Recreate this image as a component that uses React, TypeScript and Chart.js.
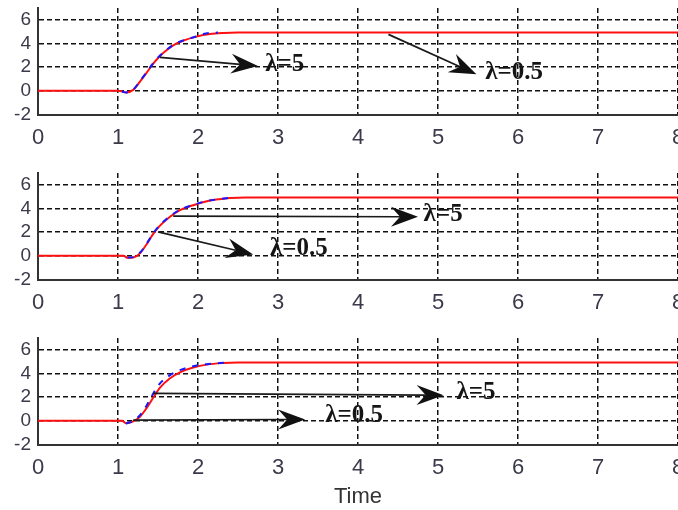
import React, { useEffect, useRef } from "react";
import { Chart, registerables } from "chart.js";

Chart.register(...registerables);

// ---- axis ticks ----
const X_TICKS = [0, 1, 2, 3, 4, 5, 6, 7, 8];
const Y_TICKS = [-2, 0, 2, 4, 6];
const X_MIN = 0;
const X_MAX = 8;
const Y_MIN = -2;
const Y_MAX = 7;
const X_TITLE = "Time";

// ---- panel 1 ----
const P1_T_RED = [0, 1.0, 1.05, 1.1, 1.19, 1.275, 1.36, 1.44, 1.525, 1.61, 1.69, 1.82, 1.98, 2.15, 2.32, 2.5, 8];
const P1_RED = [0, 0, -0.05, -0.14, 0.08, 0.78, 1.55, 2.3, 2.95, 3.45, 3.85, 4.25, 4.58, 4.8, 4.89, 4.93, 4.93];
const P1_T_BLUE = [1.05, 1.1, 1.19, 1.275, 1.36, 1.44, 1.525, 1.61, 1.69, 1.82, 1.98, 2.1, 2.25];
const P1_BLUE = [-0.05, -0.14, 0.1, 0.82, 1.6, 2.35, 2.98, 3.48, 3.88, 4.27, 4.6, 4.85, 4.93];
const P1_ARROWS = [
  [1.525, 2.82, 2.75, 2.1],
  [4.38, 4.77, 5.48, 1.41],
];
const P1_LABELS = [
  { text: "λ=5", x: 2.84, y: 2.2 },
  { text: "λ=0.5", x: 5.59, y: 1.55 },
];

// ---- panel 2 ----
const P2_T_RED = [0, 1.07, 1.12, 1.2, 1.28, 1.36, 1.44, 1.525, 1.65, 1.775, 1.94, 2.11, 2.27, 2.4, 2.6, 8];
const P2_RED = [0, 0, -0.17, -0.12, 0.25, 1.0, 1.85, 2.55, 3.3, 3.86, 4.28, 4.62, 4.79, 4.88, 4.93, 4.93];
const P2_T_BLUE = [1.12, 1.2, 1.28, 1.36, 1.44, 1.525, 1.65, 1.775, 1.94, 2.11, 2.27, 2.4];
const P2_BLUE = [-0.15, -0.1, 0.3, 1.05, 1.9, 2.6, 3.35, 3.9, 4.3, 4.63, 4.8, 4.9];
const P2_ARROWS = [
  [1.69, 3.35, 4.75, 3.3],
  [1.5, 2.03, 2.69, 0.12],
];
const P2_LABELS = [
  { text: "λ=5", x: 4.82, y: 3.5 },
  { text: "λ=0.5", x: 2.9, y: 0.6 },
];

// ---- panel 3 ----
const P3_T_RED = [0, 1.05, 1.1, 1.19, 1.275, 1.36, 1.44, 1.525, 1.65, 1.775, 1.94, 2.11, 2.31, 2.5, 8];
const P3_RED = [0, 0, -0.2, -0.05, 0.35, 1.1, 1.95, 2.8, 3.6, 4.1, 4.5, 4.75, 4.88, 4.93, 4.93];
const P3_T_BLUE = [1.1, 1.19, 1.275, 1.36, 1.44, 1.525, 1.65, 1.775, 1.94, 2.11, 2.35];
const P3_BLUE = [-0.22, 0, 0.48, 1.32, 2.3, 3.16, 3.86, 4.28, 4.62, 4.79, 4.92];
const P3_ARROWS = [
  [1.44, 2.32, 5.07, 2.17],
  [1.19, 0.06, 3.34, 0.12],
];
const P3_LABELS = [
  { text: "λ=5", x: 5.23, y: 2.4 },
  { text: "λ=0.5", x: 3.59, y: 0.45 },
];

type Label = { text: string; x: number; y: number };

function drawArrow(ctx: CanvasRenderingContext2D, x0: number, y0: number, x1: number, y1: number) {
  const dx = x1 - x0;
  const dy = y1 - y0;
  const len = Math.sqrt(dx * dx + dy * dy);
  const ux = dx / len;
  const uy = dy / len;
  const nx = -uy;
  const ny = ux;
  const L = 27;
  const W = 10;
  const N = 9;
  ctx.beginPath();
  ctx.moveTo(x0, y0);
  ctx.lineTo(x1 - (L - N) * ux, y1 - (L - N) * uy);
  ctx.stroke();
  ctx.beginPath();
  ctx.moveTo(x1, y1);
  ctx.lineTo(x1 - L * ux + W * nx, y1 - L * uy + W * ny);
  ctx.lineTo(x1 - (L - N) * ux, y1 - (L - N) * uy);
  ctx.lineTo(x1 - L * ux - W * nx, y1 - L * uy - W * ny);
  ctx.closePath();
  ctx.fill();
}

function Panel(props: {
  tRed: number[];
  red: number[];
  tBlue: number[];
  blue: number[];
  arrows: number[][];
  labels: Label[];
  height: number;
  xHeight: number;
  showTitle: boolean;
}) {
  const ref = useRef<HTMLCanvasElement>(null);
  useEffect(() => {
    const canvas = ref.current;
    if (!canvas) return;
    const annot = {
      id: "annot",
      afterDatasetsDraw(chart: any) {
        const { ctx, scales } = chart;
        const xs = scales.x;
        const ys = scales.y;
        ctx.save();
        ctx.strokeStyle = "#1a1a1a";
        ctx.fillStyle = "#111";
        ctx.lineWidth = 1.7;
        for (const a of props.arrows) {
          drawArrow(
            ctx,
            xs.getPixelForValue(a[0]),
            ys.getPixelForValue(a[1]),
            xs.getPixelForValue(a[2]),
            ys.getPixelForValue(a[3])
          );
        }
        ctx.font = 'bold 25px "Liberation Serif", "DejaVu Serif", serif';
        ctx.textAlign = "left";
        ctx.textBaseline = "middle";
        ctx.fillStyle = "#151515";
        for (const l of props.labels) {
          ctx.fillText(l.text, xs.getPixelForValue(l.x), ys.getPixelForValue(l.y));
        }
        ctx.restore();
      },
    };
    const chart = new Chart(canvas, {
      type: "line",
      data: {
        datasets: [
          {
            label: "red",
            data: props.tRed.map((t, i) => ({ x: t, y: props.red[i] })),
            borderColor: "#ff1010",
            borderWidth: 2,
            pointRadius: 0,
            fill: false,
            cubicInterpolationMode: "monotone",
            order: 2,
          },
          {
            label: "blue",
            data: props.tBlue.map((t, i) => ({ x: t, y: props.blue[i] })),
            borderColor: "#1818ff",
            borderWidth: 2,
            borderDash: [6, 7],
            pointRadius: 0,
            fill: false,
            cubicInterpolationMode: "monotone",
            order: 1,
          },
        ],
      },
      options: {
        animation: false,
        responsive: false,
        devicePixelRatio: 1,
        layout: { padding: { top: 8, left: 0, right: 0, bottom: 0 } },
        plugins: { legend: { display: false }, tooltip: { enabled: false }, title: { display: false } },
        scales: {
          x: {
            type: "linear",
            min: X_MIN,
            max: X_MAX,
            afterBuildTicks: (s: any) => {
              s.ticks = X_TICKS.map((v) => ({ value: v }));
            },
            afterFit: (s: any) => {
              s.height = props.xHeight;
              s.paddingLeft = 0;
              s.paddingRight = 0;
            },
            ticks: {
              padding: 10,
              color: "#3a3a4a",
              font: { family: '"Liberation Sans", Arial, sans-serif', size: 22 },
              maxRotation: 0,
              autoSkip: false,
            },
            grid: { color: "#111", lineWidth: 1.5, drawTicks: false },
            border: { display: true, color: "#333", width: 2, dash: [5, 3] },
            title: {
              display: props.showTitle,
              text: X_TITLE,
              color: "#333",
              font: { family: '"Liberation Sans", Arial, sans-serif', size: 22 },
              padding: { top: 0, bottom: 0 },
            },
          },
          y: {
            type: "linear",
            min: Y_MIN,
            max: Y_MAX,
            afterBuildTicks: (s: any) => {
              s.ticks = Y_TICKS.map((v) => ({ value: v }));
            },
            afterFit: (s: any) => {
              s.width = 38;
              s.paddingTop = 0;
              s.paddingBottom = 0;
            },
            ticks: {
              padding: 7,
              color: "#3a3a4a",
              font: { family: '"Liberation Sans", Arial, sans-serif', size: 19 },
            },
            grid: { color: "#111", lineWidth: 1.5, drawTicks: false },
            border: { display: true, color: "#333", width: 2, dash: [5, 3] },
          },
        },
      } as any,
      plugins: [annot],
    });
    return () => chart.destroy();
  }, []);
  return <canvas ref={ref} width={678} height={props.height} style={{ display: "block", width: 678, height: props.height }} />;
}

export default function App() {
  return (
    <div style={{ position: "absolute", left: 0, top: 0, width: 678, height: 510, overflow: "hidden", background: "#fff" }}>
      <Panel tRed={P1_T_RED} red={P1_RED} tBlue={P1_T_BLUE} blue={P1_BLUE} arrows={P1_ARROWS} labels={P1_LABELS} height={165} xHeight={50.5} showTitle={false} />
      <Panel tRed={P2_T_RED} red={P2_RED} tBlue={P2_T_BLUE} blue={P2_BLUE} arrows={P2_ARROWS} labels={P2_LABELS} height={165} xHeight={50.5} showTitle={false} />
      <Panel tRed={P3_T_RED} red={P3_RED} tBlue={P3_T_BLUE} blue={P3_BLUE} arrows={P3_ARROWS} labels={P3_LABELS} height={180} xHeight={65.5} showTitle={true} />
    </div>
  );
}
